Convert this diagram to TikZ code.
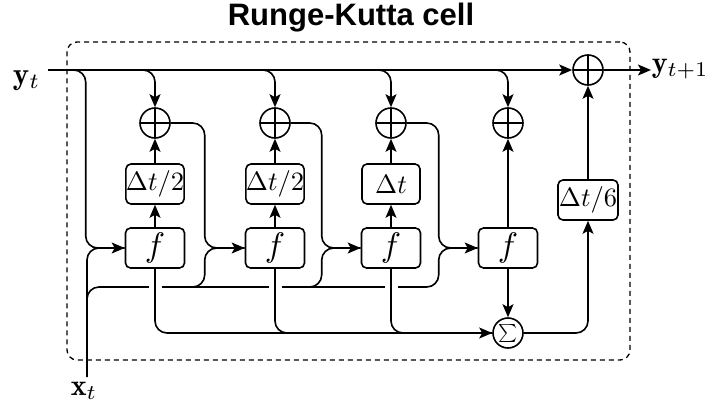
\documentclass[tikz,border=0pt]{standalone}
\usepackage{graphicx}
\usepackage{fontspec}
\newfontfamily\titlefont{Liberation Sans}
\usetikzlibrary{arrows.meta,calc}
\begin{document}
\begin{tikzpicture}[x=1pt,y=-1pt,
  line width=1.6pt,
  >={Stealth[length=13pt,width=11pt,inset=3pt]},
  fbox/.style={draw, rounded corners=5pt, minimum width=59pt, minimum height=40pt, inner sep=0pt},
  dbox/.style={draw, rounded corners=5pt, minimum width=58pt, minimum height=40pt, inner sep=0pt},
  oplus/.style={draw, circle, minimum size=30pt, inner sep=0pt,
    path picture={\draw (path picture bounding box.north) -- (path picture bounding box.south)
      (path picture bounding box.west) -- (path picture bounding box.east);}},
  wire/.style={rounded corners=12pt},
  lbl/.style={inner sep=0pt},
  cellbox/.style={draw, dash pattern=on 5pt off 4pt, line width=1.3pt, rounded corners=10pt, inner sep=0pt},
]
\useasboundingbox (0,0) rectangle (713,410);

% title and cell frame
\node (title) at (351,18) {\titlefont\bfseries\fontsize{31}{31}\selectfont Runge-Kutta cell};
\node[cellbox, minimum width=563pt, minimum height=318pt] (cell) at (348.5,201) {};

% blocks
\node[fbox] (f1) at (155,248) {\scalebox{3.4}{$f$}};
\node[fbox] (f2) at (275,248) {\scalebox{3.4}{$f$}};
\node[fbox] (f3) at (391,248) {\scalebox{3.4}{$f$}};
\node[fbox] (f4) at (508,248) {\scalebox{3.4}{$f$}};
\node[dbox] (d1) at (155,184) {\scalebox{2.65}{$\Delta t/2$}};
\node[dbox] (d2) at (275,184) {\scalebox{2.65}{$\Delta t/2$}};
\node[dbox] (d3) at (391,184) {\scalebox{2.65}{$\Delta t$}};
\node[dbox, minimum width=60pt] (d6) at (588,200) {\scalebox{2.65}{$\Delta t/6$}};
\node[oplus] (p1) at (155,123) {};
\node[oplus] (p2) at (275,123) {};
\node[oplus] (p3) at (391,123) {};
\node[oplus] (p4) at (508,123) {};
\node[oplus] (pf) at (588,70) {};
\node[draw, circle, minimum size=30pt, inner sep=0pt] (sg) at (508,333) {\scalebox{1.8}{$\sum$}};

% labels
\node[lbl, anchor=base east] (yt) at (41,84) {\scalebox{3.1}{$\mathbf{y}_t$}};
\node[lbl, anchor=base west] (ytt) at (651,72) {\scalebox{3.0}{$\mathbf{y}_{t+1}$}};
\node[lbl, anchor=base west] (xt) at (70,395) {\scalebox{3.0}{$\mathbf{x}_t$}};
\coordinate (ys) at (48,70);
\coordinate (xs) at (87,377);

% main state line
\draw[->] (ys) -- (pf.west);
\draw[->] (pf.east) -- (ytt.west |- pf.east);

% state branches
\draw[wire,->] ($(ys)+(24,0)$) -| ($(f1.west)+(-39,0)$) -- (f1.west);
\draw[wire,->] ($(p1.north |- ys)+(-15,0)$) -| (p1.north);
\draw[wire,->] ($(p2.north |- ys)+(-15,0)$) -| (p2.north);
\draw[wire,->] ($(p3.north |- ys)+(-15,0)$) -| (p3.north);
\draw[wire,->] ($(p4.north |- ys)+(-15,0)$) -| (p4.north);

% stage chain
\draw[->] (f1.north) -- (d1.south);
\draw[->] (d1.north) -- (p1.south);
\draw[->] (f2.north) -- (d2.south);
\draw[->] (d2.north) -- (p2.south);
\draw[->] (f3.north) -- (d3.south);
\draw[->] (d3.north) -- (p3.south);
\draw[->] (f4.north) -- (p4.south);
\draw[->] (f4.south) -- (sg.north);
\draw[wire,->] (p1.east) -| ($(f2.west)+(-40,0)$) -- (f2.west);
\draw[wire,->] (p2.east) -| ($(f3.west)+(-39,0)$) -- (f3.west);
\draw[wire,->] (p3.east) -| ($(f4.west)+(-39,0)$) -- (f4.west);

% input x
\draw[wire] (xs) |- (f1.west);
\draw[wire] ($(xs)+(0,-77)$) |- ($(f4.west)+(-39,39)$) |- (f4.west);
\draw[wire] ($(f2.west)+(-52,39)$) -| ($(f2.west)+(-40,0)$) -- (f2.west);
\draw[wire] ($(f3.west)+(-51,39)$) -| ($(f3.west)+(-39,0)$) -- (f3.west);

% gaps where the stage outputs cross the input line
\fill[white] ($(f1.south)+(-6.5,14)$) rectangle ++(13,10);
\fill[white] ($(f2.south)+(-6.5,14)$) rectangle ++(13,10);
\fill[white] ($(f3.south)+(-6.5,14)$) rectangle ++(13,10);

% stage outputs to the sum
\draw[wire,->] (f1.south) |- (sg.west);
\draw[wire] (f2.south) |- (sg.west);
\draw[wire] (f3.south) |- (sg.west);
\draw[wire,->] (sg.east) -| (d6.south);
\draw[->] (d6.north) -- (pf.south);
\end{tikzpicture}
\end{document}
